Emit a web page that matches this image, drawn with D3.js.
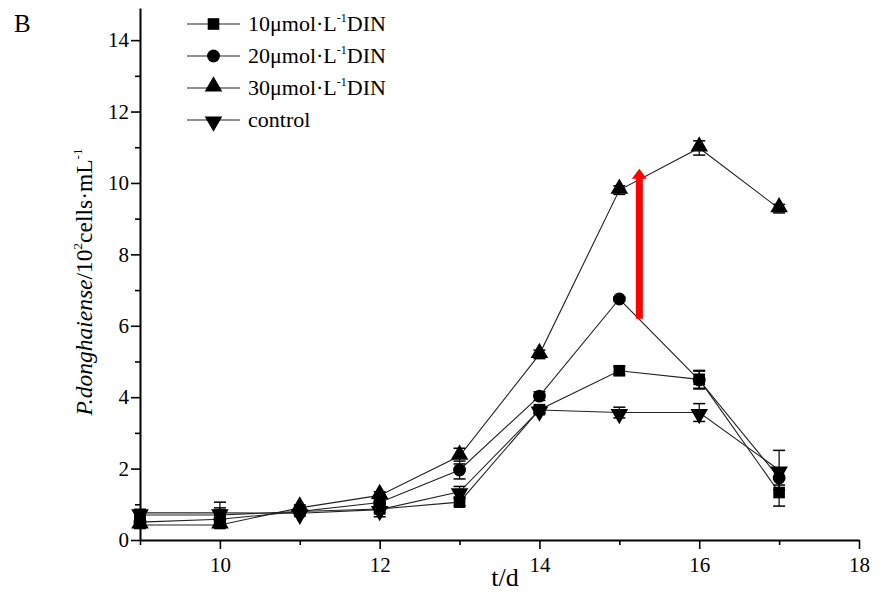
<!DOCTYPE html>
<html>
<head>
<meta charset="utf-8">
<script src="https://cdn.jsdelivr.net/npm/d3@7"></script>
<style>
  body { margin: 0; background: #fff; }
  svg text { font-family: "Liberation Serif", serif; fill: #000; }
</style>
</head>
<body>
<div id="chart"></div>
<script>
// ---- data ----
const days = [9, 10, 11, 12, 13, 14, 15, 16, 17];
const din10 = [0.70, 0.70, 0.80, 0.87, 1.06, 3.65, 4.74, 4.50, 1.33];
const din20 = [0.50, 0.58, 0.80, 1.05, 1.96, 4.03, 6.75, 4.48, 1.74];
const din30 = [0.42, 0.42, 0.90, 1.25, 2.35, 5.20, 9.80, 10.98, 9.28];
const control = [0.76, 0.76, 0.75, 0.85, 1.35, 3.64, 3.57, 3.57, 1.96];
const err10 = [0.15, 0.20, 0.05, 0.10, 0.10, 0.10, 0.12, 0.25, 0.38];
const err20 = [0.10, 0.10, 0.05, 0.10, 0.25, 0.12, 0.05, 0.25, 0.20];
const err30 = [0.10, 0.10, 0.08, 0.10, 0.22, 0.12, 0.12, 0.20, 0.12];
const errCtrl = [0.10, 0.30, 0.05, 0.20, 0.15, 0.08, 0.15, 0.25, 0.55];
const legendLabels = ['10', '20', '30', 'control'];
const xTicks = [10, 12, 14, 16, 18];
const xMinor = [9, 11, 13, 15, 17];
const yTicks = [0, 2, 4, 6, 8, 10, 12, 14];
const yMinor = [1, 3, 5, 7, 9, 11, 13];
const arrowDay = 15.25;
const arrowFrom = 6.2;
const arrowTo = 10.4;

const series = [
    { values: din10, err: err10, shape: 'square' },
    { values: din20, err: err20, shape: 'circle' },
    { values: din30, err: err30, shape: 'up' },
    { values: control, err: errCtrl, shape: 'down' }
];

const W = 884, H = 599;
const margin = { top: 8, right: 25, bottom: 59, left: 140 };
const width = W - margin.left - margin.right;
const height = H - margin.top - margin.bottom;

const x = d3.scaleLinear().domain([9, 18]).range([0, width]);
const y = d3.scaleLinear().domain([0, 14.9]).range([height, 0]);

const root = d3.select('#chart').append('svg')
    .attr('width', W)
    .attr('height', H);

root.append('rect').attr('width', W).attr('height', H).attr('fill', '#fff');

const svg = root.append('g')
    .attr('transform', `translate(${margin.left}, ${margin.top})`);

// axes (major + minor ticks, outward)
const xAxis = svg.append('g')
    .attr('transform', `translate(0, ${height})`)
    .call(d3.axisBottom(x).tickValues(xTicks).tickSize(9).tickSizeOuter(0).tickPadding(5));
svg.append('g')
    .attr('transform', `translate(0, ${height})`)
    .call(d3.axisBottom(x).tickValues(xMinor).tickSize(5).tickSizeOuter(0).tickFormat(''))
    .select('.domain').remove();

svg.append('g')
    .call(d3.axisLeft(y).tickValues(yTicks).tickSize(9).tickSizeOuter(0).tickPadding(2));
svg.append('g')
    .call(d3.axisLeft(y).tickValues(yMinor).tickSize(5).tickSizeOuter(0).tickFormat(''))
    .select('.domain').remove();

svg.selectAll('.domain').attr('stroke', '#000').attr('stroke-width', 2);
svg.selectAll('.tick line').attr('stroke', '#000').attr('stroke-width', 1.6);
svg.selectAll('.tick text').attr('font-size', 21);
xAxis.selectAll('.tick text').attr('dy', '0.85em');

// connecting lines
const line = d3.line()
    .x((d, i) => x(days[i]))
    .y(d => y(d));

series.forEach(s => {
    svg.append('path')
        .datum(s.values)
        .attr('fill', 'none')
        .attr('stroke', '#222')
        .attr('stroke-width', 1.1)
        .attr('d', line);
});

// error bars
series.forEach(s => {
    const g = svg.append('g');
    s.values.forEach((v, i) => {
        const cx = x(days[i]);
        const e = s.err[i];
        g.append('line')
            .attr('x1', cx).attr('x2', cx)
            .attr('y1', y(v - e)).attr('y2', y(v + e))
            .attr('stroke', '#000').attr('stroke-width', 1.2);
        [v - e, v + e].forEach(c => {
            g.append('line')
                .attr('x1', cx - 6).attr('x2', cx + 6)
                .attr('y1', y(c)).attr('y2', y(c))
                .attr('stroke', '#000').attr('stroke-width', 1.5);
        });
    });
});

function markerPath(shape) {
    if (shape === 'square') return d3.symbol(d3.symbolSquare, 135)();
    if (shape === 'circle') return d3.symbol(d3.symbolCircle, 130)();
    return d3.symbol(d3.symbolTriangle, 135)();
}
function markerTransform(shape, cx, cy) {
    if (shape === 'down') return `translate(${cx}, ${cy + 1.5}) rotate(180)`;
    if (shape === 'up') return `translate(${cx}, ${cy - 1.5})`;
    return `translate(${cx}, ${cy})`;
}

series.forEach(s => {
    svg.append('g').selectAll('path')
        .data(s.values)
        .join('path')
        .attr('d', markerPath(s.shape))
        .attr('fill', '#000')
        .attr('transform', (d, i) => markerTransform(s.shape, x(days[i]), y(d)));
});

// red arrow
const ax = x(arrowDay);
svg.append('line')
    .attr('x1', ax).attr('x2', ax)
    .attr('y1', y(arrowFrom)).attr('y2', y(arrowTo) + 9)
    .attr('stroke', '#ff0000').attr('stroke-width', 7);
svg.append('path')
    .attr('d', `M${ax - 7.5},${y(arrowTo) + 10} L${ax + 7.5},${y(arrowTo) + 10} L${ax},${y(arrowTo)} Z`)
    .attr('fill', '#ff0000');

// legend
const legend = root.append('g').attr('transform', 'translate(187, 24)');
series.forEach((s, i) => {
    const row = legend.append('g').attr('transform', `translate(0, ${i * 32})`);
    row.append('line').attr('x1', 0).attr('x2', 53).attr('y1', 0).attr('y2', 0)
        .attr('stroke', '#222').attr('stroke-width', 1.1);
    row.append('path')
        .attr('d', markerPath(s.shape))
        .attr('fill', '#000')
        .attr('transform', markerTransform(s.shape, 26.5, 0));
    const t = row.append('text').attr('x', 61).attr('y', 7).attr('font-size', 22);
    if (legendLabels[i] === 'control') {
        t.text('control');
    } else {
        t.append('tspan').text(legendLabels[i] + 'μmol·L');
        t.append('tspan').attr('font-size', 12).attr('dy', -9).text('-1');
        t.append('tspan').attr('dy', 9).text('DIN');
    }
});

// axis titles
root.append('text')
    .attr('x', 505).attr('y', 586)
    .attr('text-anchor', 'middle')
    .attr('font-size', 26)
    .text('t/d');

const yl = root.append('text')
    .attr('transform', 'translate(92, 282) rotate(-90)')
    .attr('text-anchor', 'middle')
    .attr('font-size', 23.5);
yl.append('tspan').attr('font-style', 'italic').text('P.donghaiense');
yl.append('tspan').text('/10');
yl.append('tspan').attr('font-size', 13).attr('dy', -10).text('2');
yl.append('tspan').attr('dy', 10).text('cells·mL');
yl.append('tspan').attr('font-size', 13).attr('dy', -10).text('-1');

root.append('text')
    .attr('x', 14).attr('y', 32)
    .attr('font-size', 25)
    .text('B');
</script>
</body>
</html>
